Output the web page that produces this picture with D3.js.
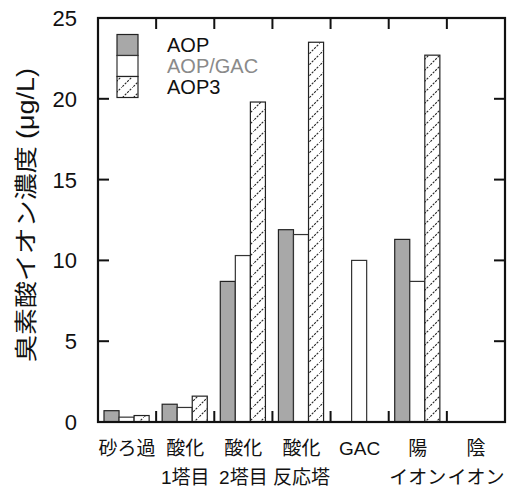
<!DOCTYPE html>
<html>
<head>
<meta charset="utf-8">
<script src="https://cdn.jsdelivr.net/npm/d3@7"></script>
<style>
  html, body { margin: 0; padding: 0; background: #fff; }
  svg { display: block; }
  text { font-family: "Liberation Sans", Arial, "Noto Sans CJK JP", sans-serif; fill: #111; }
</style>
</head>
<body>
<svg id="chart" width="521" height="492"></svg>
<script>
// Process stages (two-line labels are split on "\n")
const categories = ["砂ろ過", "酸化\n1塔目", "酸化\n2塔目", "酸化\n反応塔", "GAC", "陽\nイオン", "陰\nイオン"];
const seriesNames = ["AOP", "AOP/GAC", "AOP3"];
// Bromate concentration (µg/L); null = not measured
const aopValues    = [0.7, 1.1, 8.7, 11.9, null, 11.3, null];
const aopGacValues = [0.3, 0.9, 10.3, 11.6, 10.0, 8.7, null];
const aop3Values   = [0.4, 1.6, 19.8, 23.5, null, 22.7, null];
const yTicks = [0, 5, 10, 15, 20, 25];
const yLabel = "臭素酸イオン濃度 (μg/L)";

const seriesValues = [aopValues, aopGacValues, aop3Values];

const svg = d3.select("#chart");
const margin = { left: 98, right: 16, top: 18, bottom: 70 };
const W = 521, H = 492;
const x0 = margin.left, x1 = W - margin.right;
const y0 = H - margin.bottom, y1 = margin.top;

const x = d3.scaleBand().domain(categories).range([x0, x1]).paddingInner(0).paddingOuter(0);
const xs = d3.scaleBand().domain(seriesNames).range([6, x.bandwidth() - 7]).paddingInner(0);
const y = d3.scaleLinear().domain([0, 25]).range([y0, y1]);

// Hatch pattern for AOP3
const defs = svg.append("defs");
const pat = defs.append("pattern")
  .attr("id", "hatch").attr("patternUnits", "userSpaceOnUse")
  .attr("width", 11).attr("height", 11);
pat.append("rect").attr("width", 11).attr("height", 11).attr("fill", "#fff");
pat.append("path").attr("d", "M-1,12 L12,-1")
  .attr("stroke", "#222").attr("stroke-width", 1.1).attr("stroke-dasharray", "2.2,1.2");

const fills = { "AOP": "#a8a8a8", "AOP/GAC": "#ffffff", "AOP3": "url(#hatch)" };
const strokes = { "AOP": "#222", "AOP/GAC": "#333", "AOP3": "#222" };

// Bars
const rows = [];
categories.forEach((c, i) => {
  seriesNames.forEach((s, j) => {
    const v = seriesValues[j][i];
    if (v !== null) rows.push({ c, s, v });
  });
});
svg.append("g").selectAll("rect").data(rows).join("rect")
  .attr("x", d => x(d.c) + xs(d.s))
  .attr("width", xs.bandwidth())
  .attr("y", d => y(d.v))
  .attr("height", d => y(0) - y(d.v))
  .attr("fill", d => fills[d.s])
  .attr("stroke", d => strokes[d.s])
  .attr("stroke-width", 1.2);

// Frame
svg.append("rect").attr("x", x0).attr("y", y1)
  .attr("width", x1 - x0).attr("height", y0 - y1)
  .attr("fill", "none").attr("stroke", "#111").attr("stroke-width", 2.2);

// Inward ticks: y on left/right, x between groups on bottom/top
const tickLen = 11;
const tg = svg.append("g").attr("stroke", "#111").attr("stroke-width", 2);
yTicks.filter(t => t > 0 && t < 25).forEach(t => {
  tg.append("line").attr("x1", x0).attr("x2", x0 + tickLen).attr("y1", y(t)).attr("y2", y(t));
  tg.append("line").attr("x1", x1).attr("x2", x1 - tickLen).attr("y1", y(t)).attr("y2", y(t));
});
categories.slice(1).forEach(c => {
  const xp = x(c);
  tg.append("line").attr("x1", xp).attr("x2", xp).attr("y1", y0).attr("y2", y0 - tickLen);
  tg.append("line").attr("x1", xp).attr("x2", xp).attr("y1", y1).attr("y2", y1 + tickLen);
});

// Y tick labels
svg.append("g").selectAll("text").data(yTicks).join("text")
  .attr("x", 77).attr("y", d => y(d)).attr("dy", "0.36em")
  .attr("text-anchor", "end").attr("font-size", 22)
  .text(d => d);

// Y axis title
svg.append("text")
  .attr("transform", `translate(26,${(y0 + y1) / 2 - 5}) rotate(-90)`)
  .attr("text-anchor", "middle").attr("dominant-baseline", "central")
  .attr("font-size", 23)
  .attr("textLength", 294).attr("lengthAdjust", "spacingAndGlyphs")
  .text(yLabel);

// X category labels
const xl = svg.append("g").attr("font-size", 19).attr("text-anchor", "middle");
categories.forEach(c => {
  const lines = c.split("\n");
  lines.forEach((ln, k) => {
    xl.append("text")
      .attr("x", x(c) + x.bandwidth() / 2)
      .attr("y", k === 0 ? 455 : 484)
      .text(ln);
  });
});

// Legend
const leg = svg.append("g");
const lx = 117, ly = 34.5, sw = 21;
seriesNames.forEach((s, i) => {
  leg.append("rect").attr("x", lx).attr("y", ly + i * sw)
    .attr("width", sw).attr("height", sw)
    .attr("fill", fills[s]).attr("stroke", strokes[s]).attr("stroke-width", 1.2);
  leg.append("text").attr("x", 167).attr("y", ly + i * sw + sw / 2).attr("dy", "0.36em")
    .attr("font-size", 20)
    .style("fill", s === "AOP/GAC" ? "#8a8a8a" : "#111")
    .text(s);
});
</script>
</body>
</html>
